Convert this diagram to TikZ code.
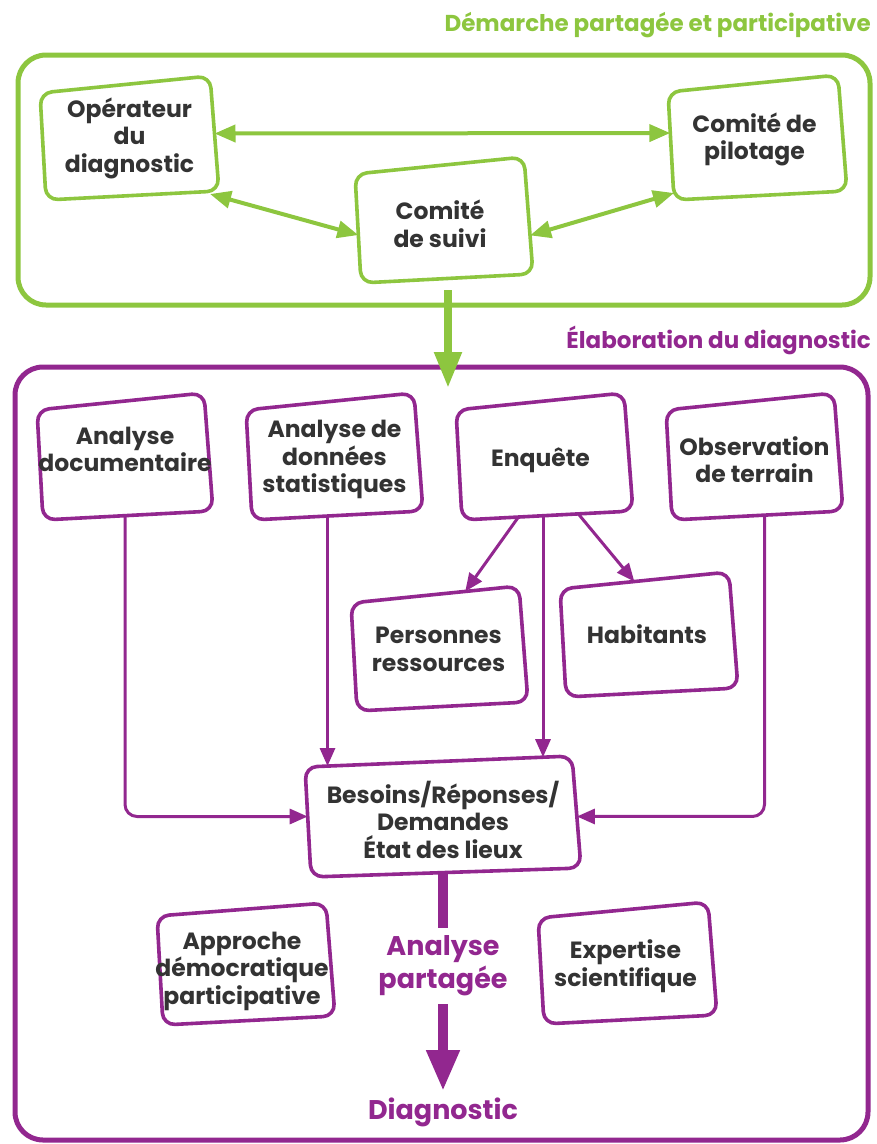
\documentclass[tikz,border=0pt]{standalone}
\usepackage{fontspec}
\setmainfont{Poppins}
\usetikzlibrary{arrows.meta,calc}

\definecolor{leaf}{HTML}{8DC63F}
\definecolor{plum}{HTML}{92278F}
\definecolor{ink}{HTML}{333333}

\tikzset{
  frame/.style={draw, line width=5pt, rounded corners=28pt, inner sep=0pt, outer sep=0pt},
  boxline/.style={line width=3.6pt, rounded corners=12pt, fill=white, line join=round},
  anchorbox/.style={inner sep=0pt, outer sep=0pt},
  label/.style={font=\bfseries\fontsize{23.5}{27.5}\selectfont, text=ink, align=center, inner sep=0pt},
  title/.style={font=\bfseries\fontsize{23}{27}\selectfont, inner sep=0pt},
  bigtext/.style={font=\bfseries\fontsize{27}{33}\selectfont, text=plum, align=center, inner xsep=0pt},
  gthin/.style={draw=leaf, line width=4pt, {Triangle[length=21pt,width=17pt]}-{Triangle[length=21pt,width=17pt]}},
  gthick/.style={draw=leaf, line width=8pt, -{Triangle[length=36pt,width=26pt]}},
  pthin/.style={draw=plum, line width=3pt, -{Triangle[length=18pt,width=15pt]}},
  pthick/.style={draw=plum, line width=10pt},
}

% drop of the top-left corner below the top-right one
\def\qdrop{17}

% \qbox{name}{colour}{x0}{y0}{x1}{y1}{text shift}{text}
% a slightly tilted rounded quadrilateral inside the box x0..x1, y0..y1
\newcommand\qbox[8]{%
  \node[anchorbox, minimum width=#5pt-#3pt, minimum height=#6pt-#4pt] (#1)
       at ({(#3+#5)/2},{(#4+#6)/2}) {};
  \coordinate (#1-tl) at ([yshift=-\qdrop pt]#1.north west);
  \coordinate (#1-tr) at ([xshift=-9pt]#1.north east);
  \coordinate (#1-br) at ([yshift=9pt]#1.south east);
  \coordinate (#1-bl) at ([xshift=6pt]#1.south west);
  \draw[boxline, draw=#2] ($(#1-tl)!0.5!(#1-tr)$) -- (#1-tr) -- (#1-br) -- (#1-bl) -- (#1-tl) -- cycle;
  \node[label] (#1-t) at ([shift={#7}]#1.center) {#8};
}

\begin{document}
\begin{tikzpicture}[x=1pt, y=-1pt]
\useasboundingbox (0,0) rectangle (877,1144);

% outer frames and their titles
\node[frame, draw=leaf, minimum width=852pt, minimum height=250pt] (dem) at (444,180) {};
\node[frame, draw=plum, minimum width=853pt, minimum height=773pt] (ela) at (441.5,753.5) {};
\node[title, text=leaf, anchor=base east] (demt) at (871,31) {Démarche partagée et participative};
\node[title, text=plum, anchor=base east] (elat) at (871,348) {Élaboration du diagnostic};

% steering bodies
\qbox{op}{leaf}{40}{76}{219}{200}{(0,0)}{Opérateur\\du\\diagnostic}
\qbox{sui}{leaf}{355}{157}{533}{283}{(-4,4)}{Comité\\de suivi}
\qbox{pil}{leaf}{668}{75}{847}{200}{(-3,2)}{Comité de\\pilotage}

% sources of the diagnosis
\qbox{doc}{plum}{37}{393}{213}{520}{(0,-7)}{Analyse\\documentaire}
\qbox{dat}{plum}{246}{393}{423}{520}{(0,3)}{Analyse de\\données\\statistiques}
\qbox{enq}{plum}{456}{393}{633}{520}{(-4,4)}{Enquête}
\qbox{obs}{plum}{666}{393}{843}{520}{(0,3)}{Observation\\de terrain}
\qbox{per}{plum}{351}{586}{528}{711}{(-1,1)}{Personnes\\ressources}
\qbox{hab}{plum}{560}{572}{738}{697}{(-2,0)}{Habitants}
\def\qdrop{11}
\qbox{bes}{plum}{305}{756}{581}{877}{(0,3)}{Besoins/Réponses/\\Demandes\\État des lieux}
\def\qdrop{13}
\qbox{app}{plum}{157}{903}{335}{1025}{(-4,7)}{Approche\\démocratique\\participative}
\def\qdrop{16}
\qbox{exp}{plum}{538}{902}{717}{1024}{(-2,3)}{Expertise\\scientifique}

% links between the steering bodies
\draw[gthin] ($(op-tr)!0.5!(op-br)$) -- ($(pil-tl)!0.38!(pil-bl)$);
\draw[gthin] ([shift={(-9,3)}]op-br) -- ($(sui-tl)!0.56!(sui-bl)$);
\draw[gthin] ($(sui-tr)!0.67!(sui-br)$) -- ([shift={(0,-7)}]pil-bl);

% from the steering to the elaboration
\coordinate (gout) at ([shift={(4,7)}]sui.south);
\coordinate (gin) at ([yshift=-21pt]ela.north);
\draw[gthick] (gout) -- (gout |- gin);

% inputs gathered into the needs box
\coordinate (dsrc) at ([yshift=4pt]doc.south);
\draw[pthin, rounded corners=12pt] (dsrc) |- ($(bes-tl)!0.45!(bes-bl)$);
\coordinate (osrc) at ([shift={(10,-4)}]obs.south);
\draw[pthin, rounded corners=12pt] (osrc) |- ($(bes-tr)!0.54!(bes-br)$);
\coordinate (tsrc) at ([shift={(-7,-4)}]dat.south);
\coordinate (ttgt) at ($(bes-tl)!0.085!(bes-tr)$);
\draw[pthin] (tsrc) -- (tsrc |- ttgt);
\coordinate (esrc) at ([shift={(-1.5,-4)}]enq.south);
\coordinate (etgt) at ($(bes-tl)!0.89!(bes-tr)$);
\draw[pthin] (esrc) -- (esrc |- etgt);
\draw[pthin] ($(enq-bl)!0.33!(enq-br)$) -- ($(per-tl)!0.68!(per-tr)$);
\draw[pthin] ($(enq-bl)!0.68!(enq-br)$) -- ($(hab-tl)!0.44!(hab-tr)$);

% shared analysis leading to the diagnosis
\node[bigtext, inner ysep=8pt] (ana) at (443,966) {Analyse\\partagée};
\node[bigtext, inner ysep=6pt, anchor=base] (dia) at (443,1119) {Diagnostic};
\draw[pthick] ([yshift=3pt]bes.south) -- (bes.south |- ana.north);
\draw[pthick, -{Triangle[length=41pt,width=31pt]}] (ana.south) -- (dia.north);
\end{tikzpicture}
\end{document}
